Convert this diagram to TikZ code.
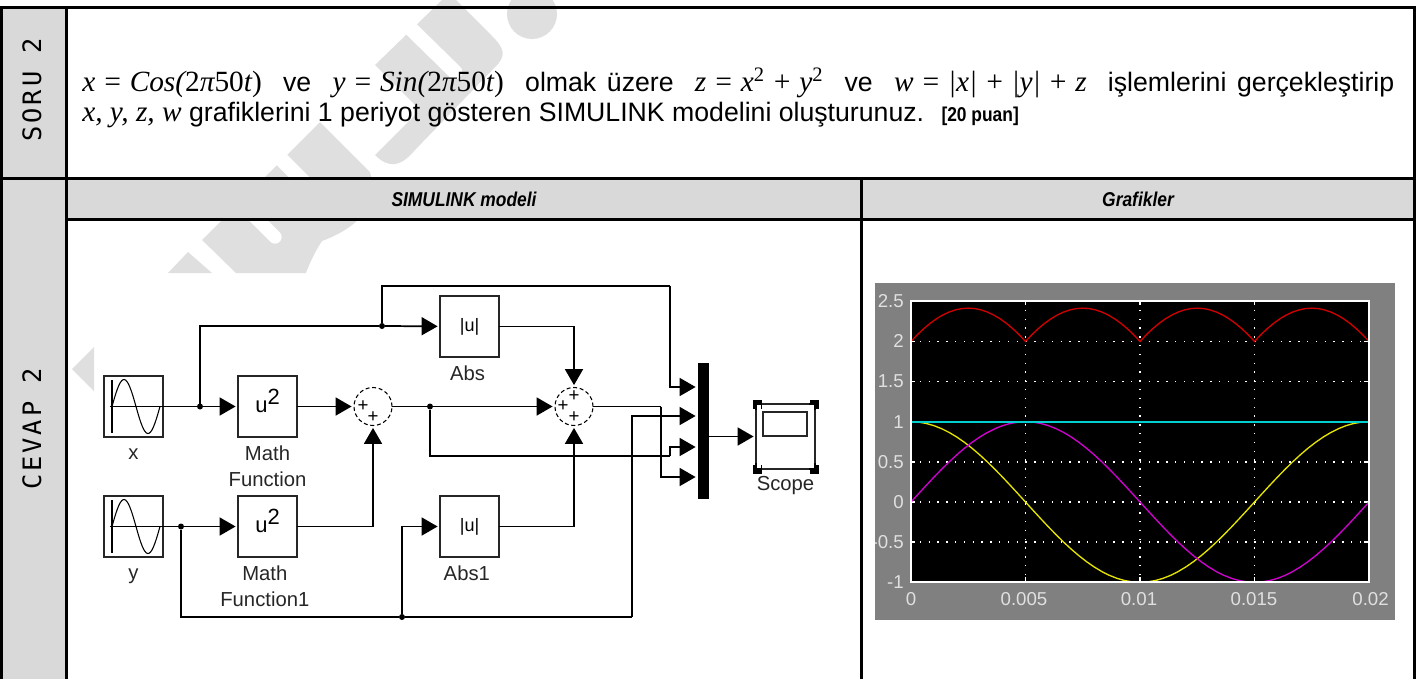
\documentclass[tikz,border=0pt]{standalone}
\usepackage[no-math]{fontspec}
\setmainfont{Liberation Sans}
\newfontfamily\narrowfont[FakeStretch=0.87]{Liberation Sans}
\newfontfamily\sidefont[LetterSpace=12]{DejaVu Sans Mono}
\newfontfamily\eqfont{Liberation Serif}
\newcommand{\eqi}[1]{{\eqfont\fontsize{22pt}{22pt}\selectfont\itshape #1}}
\newcommand{\equ}[1]{{\eqfont\fontsize{22pt}{22pt}\selectfont #1}}
\newcommand{\eqsq}{\textsuperscript{\eqfont\upshape 2}}
\usetikzlibrary{arrows.meta,positioning,calc}
\definecolor{cellgray}{HTML}{D9D9D9}
\definecolor{wmgray}{HTML}{DFDFDF}
\definecolor{scopegray}{HTML}{808080}
\definecolor{ticktext}{HTML}{E0E0E0}
\definecolor{plotred}{HTML}{D00000}
\definecolor{plotyel}{HTML}{E4E400}
\definecolor{plotmag}{HTML}{D000D0}
\definecolor{plotcya}{HTML}{00D0D0}
\tikzset{
  sinewave/.pic={
    \draw[line width=1.2pt] (-21.5,-26.5) -- (-21.5,26.5);
    \draw[line width=1pt] (-24,0) -- (29.5,0);
    \draw[line width=0.8pt] plot[domain=0:360, samples=36, smooth] ({-21.5+\x/360*48},{-27*sin(\x)});
  }
}

\begin{document}
\begin{tikzpicture}[
  x=0.75pt, y=-0.75pt,
  blk/.style={draw=black!85, line width=1.3pt, minimum width=44.25pt, minimum height=45.75pt, inner sep=0pt, outer sep=0pt, font=\fontsize{13.5pt}{14pt}\selectfont},
  sumc/.style={circle, draw, densely dashed, line width=0.8pt, minimum size=28.5pt, inner sep=0pt, outer sep=0pt},
  plusn/.style={font=\fontsize{14pt}{14pt}\selectfont, inner sep=0pt},
  dotn/.style={circle, fill=black, minimum size=4.5pt, inner sep=0pt, outer sep=0pt},
  lab/.style={font=\fontsize{15.2pt}{19.5pt}\selectfont, align=center, inner sep=0pt, text=black!85},
  wire/.style={line width=1.3pt, draw=black},
  arr/.style={wire, -{Triangle[length=12pt, width=13.5pt]}, shorten >=1.8pt},
  side/.style={rotate=90, font=\sidefont\fontsize{19pt}{20pt}\selectfont, inner sep=0pt},
  head/.style={font=\narrowfont\bfseries\itshape\fontsize{15pt}{16pt}\selectfont, inner sep=0pt},
  rule/.style={line width=2.25pt},
  tick/.style={font=\fontsize{14pt}{14pt}\selectfont, text=ticktext, inner sep=0pt},
  gridl/.style={white, line width=1pt, dash pattern=on 1pt off 5.6pt},
  curve/.style={line width=1pt}
]
  \useasboundingbox (0,0) rectangle (1416,679);

  % watermark
  \fill[wmgray] (202,240) -- (320,122) -- (370,172) .. controls (378,200) and (365,225) .. (322,241)
    .. controls (316,250) and (310,262) .. (306,273) -- (236,273) -- cycle;
  \fill[wmgray] (375,65) -- (442,0) -- (456,0) -- (492,36) .. controls (505,49) and (505,55) .. (498,64)
    -- (415,150) .. controls (400,168) and (388,168) .. (375,155) -- (383,147) -- (413,117)
    .. controls (418,112) and (418,108) .. (413,103) -- cycle;
  \fill[wmgray] (168,273) -- (188,252) -- (212,273) -- cycle;
  \fill[wmgray] (72,369) -- (94,347) -- (94,391) -- cycle;
  \fill[wmgray] (532,14) circle (25);
  \draw[white, line width=10pt, line cap=round] (234,196) -- (275,237);
  \draw[white, line width=11pt, line cap=round] (276,154) -- (317,195);
  \draw[white, line width=11pt, line cap=round] (406,24) -- (455,72);

  % table
  \fill[cellgray] (1.5,7.5) rectangle (66.5,679);
  \fill[cellgray] (66.5,178.5) rectangle (1414.5,219.5);
  \draw[rule] (1.5,679) -- (1.5,7.5) -- (1414.5,7.5) -- (1414.5,679);
  \draw[rule] (66.5,7.5) -- (66.5,679);
  \draw[rule] (1.5,178.5) -- (1414.5,178.5);
  \draw[rule] (66.5,219.5) -- (1414.5,219.5);
  \draw[rule] (861.5,178.5) -- (861.5,679);

  \node[side] (soru) at (32,90) {SORU 2};
  \node[side] (cevap) at (32,429) {CEVAP 2};
  \node[head] (hmodel) at (464,199) {SIMULINK modeli};
  \node[head] (hgraf) at (1138,199) {Grafikler};

  \node[anchor=west, text width=984pt, align=justify, inner sep=0pt, font=\fontsize{20pt}{22.2pt}\selectfont] (task) at (82,98)
    {\mbox{\eqi{x = Cos(}\equ{2}\eqi{π}\equ{50}\eqi{t}\equ{)}} ~ve~ \mbox{\eqi{y = Sin(}\equ{2}\eqi{π}\equ{50}\eqi{t}\equ{)}} ~olmak üzere~ \mbox{\eqi{z = x\eqsq{} + y\eqsq}} ~ve~ \mbox{\eqi{w = |x| + |y| + z}} ~işlemlerini gerçekleştirip\linebreak
     \mbox{\eqi{x, y, z, w}} grafiklerini 1 periyot gösteren SIMULINK modelini oluşturunuz.~ {\narrowfont\bfseries\fontsize{15pt}{16pt}\selectfont [20 puan]}};

  % model
  \node[blk] (srcx) at (133.5,406.5) {};
  \node[blk, right=56.25pt of srcx] (fcnx) {\fontsize{16.5pt}{17pt}\selectfont u\raisebox{5.5pt}[0pt][0pt]{2}};
  \node[sumc, right=42.75pt of fcnx] (sum1) {};
  \node[sumc, right=122.25pt of sum1] (sum2) {};
  \node[blk, below=44.25pt of srcx] (srcy) {};
  \node[blk, below=44.25pt of fcnx] (fcny) {\fontsize{16.5pt}{17pt}\selectfont u\raisebox{5.5pt}[0pt][0pt]{2}};
  \node[blk, right=107.25pt of fcny] (absy) {|u|};
  \node[blk, above=104.25pt of absy] (absx) {|u|};
  \node[fill=black, minimum width=8.25pt, minimum height=102pt, inner sep=0pt, outer sep=0pt] (mux) at (703.5,431) {};
  \node[draw=black!85, line width=1pt, minimum width=44.25pt, minimum height=48.75pt, inner sep=0pt, outer sep=0pt] (scope) at (785.5,436.5) {};
  \pic at (srcx) {sinewave};
  \pic at (srcy) {sinewave};

  \node[lab, below=8.5pt of srcx] (lx) {x};
  \node[lab, below=8.5pt of srcy] (ly) {y};
  \node[lab, below=6.5pt of fcnx] (lfcnx) {Math\\Function};
  \node[lab, below=6.5pt of fcny, xshift=-2pt] (lfcny) {Math\\Function1};
  \node[lab, below=6.5pt of absx, xshift=-1.5pt] (labsx) {Abs};
  \node[lab, below=6.5pt of absy, xshift=-2pt] (labsy) {Abs1};
  \node[lab, below=5.5pt of scope] (lscope) {Scope};

  \node[plusn] (pa) at ($(sum1)+(-10,0)$) {+};
  \node[plusn] (pb) at ($(sum1)+(0,11)$) {+};
  \node[plusn] (pc) at ($(sum2)+(0,-10)$) {+};
  \node[plusn] (pd) at ($(sum2)+(-11,0)$) {+};
  \node[plusn] (pe) at ($(sum2)+(0,11)$) {+};

  \node[dotn] (jx1) at (200,406.5) {};
  \node[dotn] (jx2) at (382,326) {};
  \node[dotn] (jz) at (430,406.5) {};
  \node[dotn] (jy1) at (181,526.5) {};
  \node[dotn] (jy2) at (402,617) {};
  \coordinate (ina) at (698,387);
  \coordinate (inb) at (698,416);
  \coordinate (inc) at (698,447);
  \coordinate (ind) at (698,477);
  \coordinate (topx) at (670,286);
  \coordinate (botx) at (632,617);
  \coordinate (midz) at (670,456);
  \coordinate (outs) at (661,406.5);
  \coordinate (muxo) at (scope -| mux.east);

  \draw[wire] (srcx) -- (jx1);
  \draw[arr] (jx1) -- (fcnx);
  \draw[arr] (fcnx) -- (sum1);
  \draw[wire] (sum1) -- (jz);
  \draw[arr] (jz) -- (sum2);
  \draw[wire] (jx1) |- (jx2);
  \draw[arr] (jx2) -- (absx);
  \draw[wire] (jx2) |- (topx);
  \draw[arr] (topx) |- (ina);
  \draw[arr] (absx) -| (sum2);
  \draw[arr] (absy) -| (sum2);
  \draw[wire] (srcy) -- (jy1);
  \draw[arr] (jy1) -- (fcny);
  \draw[arr] (fcny) -| (sum1);
  \draw[wire] (jy1) |- (jy2);
  \draw[arr] (jy2) |- (absy);
  \draw[wire] (jy2) -- (botx);
  \draw[arr] (botx) |- (inb);
  \draw[wire] (jz) |- (midz);
  \draw[arr] (midz) |- (inc);
  \draw[wire] (sum2) -- (outs);
  \draw[arr] (outs) |- (ind);
  \draw[arr] (muxo) -- (scope);

  \node[draw=black!85, line width=1pt, minimum width=33pt, minimum height=18pt, inner sep=0pt] (screen) at (785,424) {};
  \foreach \c/\dx/\dy in {north west/-1/-1, north east/1/-1, south west/-1/1, south east/1/1} {
    \fill ($(scope.\c)+(-4.5,-4.5)+(-\dx*1,\dy*0)$) rectangle +(9,9);
    \fill[white] ($(scope.\c)+(-2.5,-2.5)+(-\dx*2.5,-\dy*2.5)$) rectangle +(5,5);
    \draw[line width=1pt] ($(scope.\c)+(-\dx*6,0)$) -- (scope.\c) -- ($(scope.\c)+(0,-\dy*6)$);
  }

  % plot
  \fill[scopegray] (875,283) rectangle (1395,620);
  \fill[black] (911,301) rectangle (1369,582);
  \foreach \v in {2,1.5,1,0.5,0,-0.5} {
    \draw[gridl] (911,502-80.3*\v) -- (1369,502-80.3*\v);
    \draw[white, line width=1pt] (911,502-80.3*\v) -- ++(4,0);
    \draw[white, line width=1pt] (1369,502-80.3*\v) -- ++(-5,0);
  }
  \foreach \t in {0.25,0.5,0.75} {
    \draw[gridl] (911+458*\t,301) -- (911+458*\t,582);
    \draw[white, line width=1pt] (911+458*\t,301) -- ++(0,4);
    \draw[white, line width=1pt] (911+458*\t,582) -- ++(0,-5);
  }
  \draw[curve, plotred] plot[domain=0:360, samples=73] ({911+\x/360*458},{502-80.3*(1+abs(cos(\x))+abs(sin(\x)))});
  \draw[curve, plotyel] plot[domain=0:360, samples=61] ({911+\x/360*458},{502-80.3*cos(\x)});
  \draw[curve, plotmag] plot[domain=0:360, samples=61] ({911+\x/360*458},{502-80.3*sin(\x)});
  \draw[line width=1.3pt, plotcya] (911,421.7) -- (1369,421.7);
  \draw[white, line width=0.9pt] (911,301) rectangle (1369,582);

  \begin{scope}
    \clip (875,283) rectangle (1395,620);
    \foreach \v in {2.5,2,1.5,1,0.5,0,-0.5,-1} {
      \node[tick, anchor=east] (ty\v) at (904,502-80.3*\v) {\v};
    }
    \node[tick] (tx0) at (911,599) {0};
    \node[tick] (tx1) at (1024,599) {0.005};
    \node[tick] (tx2) at (1139,599) {0.01};
    \node[tick] (tx3) at (1254,599) {0.015};
    \node[tick, anchor=east] (tx4) at (1389,599) {0.02};
  \end{scope}
\end{tikzpicture}
\end{document}
